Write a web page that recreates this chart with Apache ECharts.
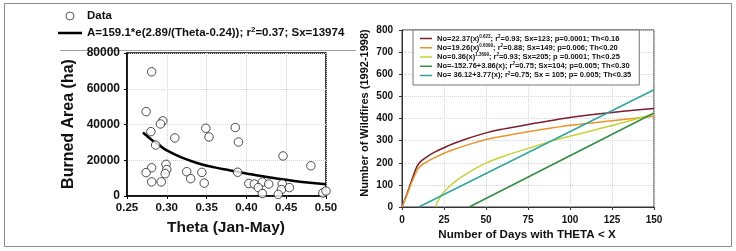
<!DOCTYPE html>
<html><head><meta charset="utf-8">
<script src="https://cdn.jsdelivr.net/npm/echarts@6/dist/echarts.min.js"></script>
<style>html,body{margin:0;padding:0;background:#fff}#c{width:736px;height:251px}</style>
</head><body><div id="c"></div>
<script>
// ---- Left panel data: Theta (Jan-May) vs Burned Area (ha)
var scatterTheta = [0.281,0.274,0.295,0.292,0.280,0.310,0.286,0.281,0.274,0.299,0.300,0.298,0.281,0.293,0.325,0.330,0.349,0.353,0.344,0.347,0.386,0.390,0.389,0.403,0.410,0.420,0.428,0.415,0.420,0.445,0.444,0.440,0.454,0.446,0.481,0.496,0.500];
var scatterArea  = [69500,47200,42000,40300,36000,32500,28500,15800,13100,17700,14800,12500,7900,7900,13600,9700,37900,33000,13200,7200,38300,30200,13300,7000,6700,7800,6700,4700,1400,6700,3600,900,4700,22400,16900,1700,2800];
var fitTheta = [0.27,0.28,0.29,0.30,0.32,0.34,0.36,0.38,0.40,0.42,0.44,0.46,0.48,0.50];
var fitArea  = [35500,31800,28600,25500,21300,18200,16000,14300,12600,11000,9600,8400,7400,6600];

// ---- Right panel data: Number of days with THETA < X vs Number of wildfires
var th16Days = [0,3,6,9,11,15,20,25,30,40,50,60,75,90,100,125,150];
var th16Fires = [0,60,125,185,205,228,250,268,285,312,335,352,373,392,405,427,445];
var th20Days = [0,3,6,9,11,15,20,25,30,40,50,60,75,90,100,125,150];
var th20Fires = [0,55,115,165,185,205,225,243,258,283,305,320,340,358,369,390,410];
var th25Days = [20,21,23,25,30,35,40,50,60,75,90,100,125,150];
var th25Fires = [0,22,48,68,105,133,158,198,228,265,300,320,368,420];
var th30Days = [40,150];
var th30Fires = [0,425];
var th35Days = [10,150];
var th35Fires = [0,530];

var rightNames = ['Th<0.16','Th<0.20','Th<0.25','Th<0.30','Th<0.35'];
var rightColors = ['#7b1e2e','#e9952a','#c5d335','#2f8f3f','#2ea6a0'];
var legendLabels = [
  ['No=22.37(x)','0.623','; r','2','=0.93; Sx=123; p=0.0001; Th<0.16'],
  ['No=19.26(x)','0.6099','; r','2','=0.88; Sx=149; p=0.006; Th<0.20'],
  ['No=0.36(x)','1.3699','; r','2','=0.93; Sx=205; p =0.0001; Th<0.25'],
  ['No=-152.76+3.86(x)','','; r','2','=0.75; Sx=104; p=0.005; Th<0.30'],
  ['No= 36.12+3.77(x)','','; r','2','=0.75; Sx = 105; p= 0.005; Th<0.35']
];
var leftLegendNames = ['Data','Fit'];

function zip(a,b){return a.map(function(v,i){return [v,b[i]];});}

var FONT = '"Liberation Sans", Arial, sans-serif';
var chart = echarts.init(document.getElementById('c'), null, {renderer:'canvas'});

function richLabel(parts){
  var s = '{n|' + parts[0] + '}';
  if (parts[1]) s += '{s|' + parts[1] + '}';
  s += '{n|' + parts[2] + '}{s|' + parts[3] + '}{n|' + parts[4] + '}';
  return s;
}
// thin line icons: invisible hairlines at top/bottom keep the bounding box, the band in the middle is the line
var leftLineIcon = 'path://M0,0H24V0.01H0Z M0,2.75H24V5.25H0Z M0,7.99H24V8H0Z';
var rightLineIcon = 'path://M0,0H12V0.01H0Z M0,2.25H12V3.75H0Z M0,5.99H12V6H0Z';

var axisLabelL = {fontFamily:FONT, fontWeight:'bold', color:'#111'};
var option = {
  animation:false,
  textStyle:{fontFamily:FONT},
  grid:[
    {left:127, top:53, width:199, height:143, show:true, borderColor:'#000', borderWidth:1.5, containLabel:false},
    {left:402, top:30, width:252, height:177, show:true, borderColor:'#333', borderWidth:1, containLabel:false}
  ],
  xAxis:[
    {gridIndex:0, type:'value', min:0.25, max:0.5, interval:0.05,
     axisLine:{show:true, onZero:false, lineStyle:{color:'#000', width:1.5}},
     axisTick:{show:true, length:3, lineStyle:{color:'#000'}},
     axisLabel:Object.assign({fontSize:11.5, margin:6, formatter:function(v){return v.toFixed(2);}}, axisLabelL),
     splitLine:{show:true, lineStyle:{color:'#d4d4d4', type:'dotted', width:1}}},
    {gridIndex:1, type:'value', min:0, max:150, interval:25,
     axisLine:{show:true, onZero:false, lineStyle:{color:'#333', width:1}},
     axisTick:{show:true, length:3, lineStyle:{color:'#333'}},
     axisLabel:Object.assign({fontSize:10, margin:8, formatter:function(v){return String(v);}}, axisLabelL),
     splitLine:{show:true, lineStyle:{color:'#d4d4d4', type:'dotted', width:1}}}
  ],
  yAxis:[
    {gridIndex:0, type:'value', min:0, max:80000, interval:20000,
     axisLine:{show:true, onZero:false, lineStyle:{color:'#000', width:1.5}},
     axisTick:{show:true, length:3, lineStyle:{color:'#000'}},
     axisLabel:Object.assign({fontSize:12, margin:7, formatter:function(v){return String(v);}}, axisLabelL),
     splitLine:{show:true, lineStyle:{color:'#d4d4d4', type:'dotted', width:1}}},
    {gridIndex:1, type:'value', min:0, max:800, interval:100,
     axisLine:{show:true, onZero:false, lineStyle:{color:'#333', width:1}},
     axisTick:{show:true, length:3, lineStyle:{color:'#333'}},
     axisLabel:Object.assign({fontSize:10, margin:9, formatter:function(v){return String(v);}}, axisLabelL),
     splitLine:{show:true, lineStyle:{color:'#d4d4d4', type:'dotted', width:1}}}
  ],
  legend:[
    {orient:'vertical', left:58, top:9, padding:0, itemGap:3, itemWidth:24, itemHeight:8,
     data:[{name:leftLegendNames[0], icon:'circle', itemStyle:{color:'#fff', borderColor:'#333', borderWidth:1}},
           {name:leftLegendNames[1], icon:leftLineIcon}],
     formatter:function(n){ return n==='Data' ? '{n|Data}' : '{n|A=159.1*e(2.89/(Theta-0.24)); r}{s|2}{n|=0.37; Sx=13974}'; },
     textStyle:{fontFamily:FONT, fontWeight:'bold', fontSize:11.5, color:'#111', lineHeight:14,
       rich:{n:{fontFamily:FONT, fontWeight:'bold', fontSize:11.5, color:'#111', lineHeight:14},
             s:{fontFamily:FONT, fontWeight:'bold', fontSize:8, color:'#111', lineHeight:14, verticalAlign:'top', padding:[0,0,5,0]}}}},
    {orient:'vertical', left:413, top:30, padding:[4,8,5,7], itemGap:0, itemWidth:12, itemHeight:6,
     backgroundColor:'#fff', borderColor:'#777', borderWidth:1, z:10,
     data:rightNames.map(function(n){return {name:n, icon:rightLineIcon};}),
     formatter:function(n){ return richLabel(legendLabels[rightNames.indexOf(n)]); },
     textStyle:{fontFamily:FONT, fontWeight:'bold', fontSize:7.5, color:'#111', lineHeight:9.2,
       rich:{n:{fontFamily:FONT, fontWeight:'bold', fontSize:7.5, color:'#111', lineHeight:9.2},
             s:{fontFamily:FONT, fontWeight:'bold', fontSize:4.5, color:'#111', lineHeight:9.2, verticalAlign:'top', padding:[0,0,3,0]}}}}
  ],
  graphic:[
    {type:'rect', shape:{x:4.5, y:3.5, width:727, height:243}, style:{fill:'none', stroke:'#8a8a8a', lineWidth:1}, silent:true},
    {type:'line', shape:{x1:60, y1:50.5, x2:356, y2:50.5}, style:{stroke:'#a0a0a0', lineWidth:1}, silent:true},
    {type:'text', x:69, y:124, rotation:Math.PI/2, style:{text:'Burned Area (ha)', fontFamily:FONT, fontWeight:'bold', fontSize:16, fill:'#111', textAlign:'center', textVerticalAlign:'middle'}},
    {type:'text', x:226, y:228, style:{text:'Theta (Jan-May)', fontFamily:FONT, fontWeight:'bold', fontSize:15.5, fill:'#111', textAlign:'center', textVerticalAlign:'middle'}},
    {type:'text', x:365, y:113, rotation:Math.PI/2, style:{text:'Number of Wildfires (1992-1998)', fontFamily:FONT, fontWeight:'bold', fontSize:11, fill:'#111', textAlign:'center', textVerticalAlign:'middle'}},
    {type:'text', x:527, y:235, style:{text:'Number of Days with THETA < X', fontFamily:FONT, fontWeight:'bold', fontSize:11.6, fill:'#111', textAlign:'center', textVerticalAlign:'middle'}}
  ],
  series:[
    {name:'Fit', type:'line', xAxisIndex:0, yAxisIndex:0, data:zip(fitTheta, fitArea), smooth:true, symbol:'none',
     lineStyle:{color:'#000', width:2.5}, itemStyle:{color:'#000'}, z:2},
    {name:'Data', type:'scatter', xAxisIndex:0, yAxisIndex:0, data:zip(scatterTheta, scatterArea), symbol:'circle', symbolSize:8.5,
     itemStyle:{color:'#fff', borderColor:'#222', borderWidth:1}, z:3},
    {name:rightNames[0], type:'line', xAxisIndex:1, yAxisIndex:1, data:zip(th16Days, th16Fires), smooth:0.4, symbol:'none', lineStyle:{color:rightColors[0], width:1.5}, itemStyle:{color:rightColors[0]}},
    {name:rightNames[1], type:'line', xAxisIndex:1, yAxisIndex:1, data:zip(th20Days, th20Fires), smooth:0.4, symbol:'none', lineStyle:{color:rightColors[1], width:1.5}, itemStyle:{color:rightColors[1]}},
    {name:rightNames[2], type:'line', xAxisIndex:1, yAxisIndex:1, data:zip(th25Days, th25Fires), smooth:0.4, symbol:'none', lineStyle:{color:rightColors[2], width:1.5}, itemStyle:{color:rightColors[2]}},
    {name:rightNames[3], type:'line', xAxisIndex:1, yAxisIndex:1, data:zip(th30Days, th30Fires), symbol:'none', lineStyle:{color:rightColors[3], width:1.5}, itemStyle:{color:rightColors[3]}},
    {name:rightNames[4], type:'line', xAxisIndex:1, yAxisIndex:1, data:zip(th35Days, th35Fires), symbol:'none', lineStyle:{color:rightColors[4], width:1.5}, itemStyle:{color:rightColors[4]}}
  ]
};
chart.setOption(option);
</script>
</body></html>
